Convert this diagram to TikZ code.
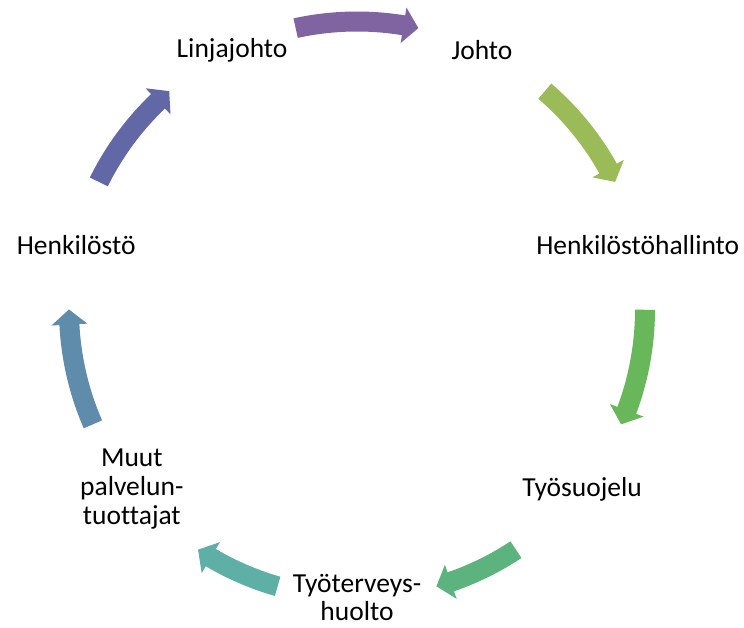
\documentclass[tikz,border=0pt]{standalone}
\usepackage{fontspec}
\setmainfont{Carlito}[Ligatures=NoCommon]
% Step colours of the cycle, green through teal and blue to purple
\definecolor{stepA}{RGB}{155,187,89}
\definecolor{stepB}{RGB}{104,183,90}
\definecolor{stepC}{RGB}{92,179,125}
\definecolor{stepD}{RGB}{94,175,166}
\definecolor{stepE}{RGB}{96,140,171}
\definecolor{stepF}{RGB}{98,103,166}
\definecolor{stepG}{RGB}{128,100,162}
\begin{document}
\begin{tikzpicture}[x=1pt,y=1pt,
  lbl/.style={font=\fontsize{27.5}{28.8}\selectfont, align=center, inner sep=0pt, text=black}]
\useasboundingbox (0,-628) rectangle (744,0);
\coordinate (O) at (357,-309.5);

% Labels placed evenly on the ring
\path (O) ++(64.286:288)   node[lbl] (johto) {Johto};
\path (O) ++(12.857:288)   node[lbl] (hallinto) {Henkilöstöhallinto};
\path (O) ++(-38.571:288)  node[lbl] (suojelu) {Työsuojelu};
\path (O) ++(-90:288)      node[lbl] (terveys) {Työterveys-\\huolto};
\path (O) ++(-141.429:288) node[lbl] (muut) {Muut\\palvelun-\\tuottajat};
\path (O) ++(167.143:288)  node[lbl] (henkilosto) {Henkilöstö};
\path (O) ++(115.714:288)  node[lbl] (linja) {Linjajohto};

% Curved block arrows between consecutive labels (clockwise):
% tail angle / tip angle / colour
\foreach \t/\h/\c in {49.3/26.3/stepA, -0.05/-23.5/stepB, -56.5/-74/stepC,
                      -106/-123.5/stepD, -156.5/-180/stepE, 153.7/130.7/stepF,
                      102.3/77.7/stepG} {
  \fill[\c, shift={(O)}]
    (\t:298) arc[start angle=\t, end angle=\h+3, radius=298]
    -- (\h+3:306) -- (\h:288) -- (\h+3:270) -- (\h+3:278)
    arc[start angle=\h+3, end angle=\t, radius=278] -- cycle;
}
\end{tikzpicture}
\end{document}
